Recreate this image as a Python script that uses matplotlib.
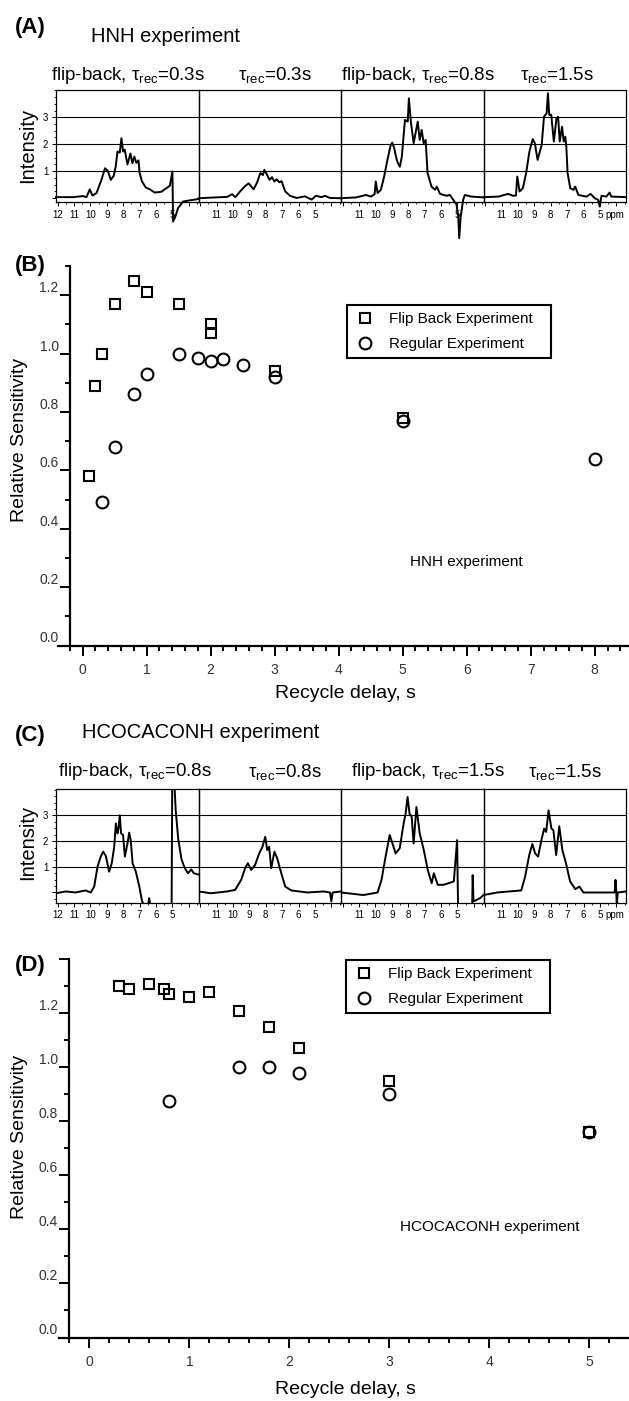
import matplotlib
matplotlib.use("Agg")
import matplotlib.pyplot as plt
from matplotlib.ticker import FixedLocator, MultipleLocator, FuncFormatter

plt.rcParams["font.family"] = ["Liberation Sans", "DejaVu Sans"]
plt.rcParams["mathtext.fontset"] = "custom"
plt.rcParams["mathtext.rm"] = "Liberation Sans"
plt.rcParams["mathtext.it"] = "Liberation Sans"

W, H = 629, 1401

# ---------------- (B) HNH relative sensitivity
hnh_fb_delay = [0.1, 0.2, 0.3, 0.5, 0.8, 1.0, 1.5, 2.0, 2.0, 3.0, 5.0]
hnh_fb_sens = [0.58, 0.89, 1.00, 1.17, 1.25, 1.21, 1.17, 1.10, 1.07, 0.94, 0.78]
hnh_reg_delay = [0.3, 0.5, 0.8, 1.0, 1.5, 1.8, 2.0, 2.2, 2.5, 3.0, 5.0, 8.0]
hnh_reg_sens = [0.49, 0.68, 0.86, 0.93, 1.00, 0.985, 0.975, 0.98, 0.96, 0.92, 0.77, 0.64]

# ---------------- (D) HCOCACONH relative sensitivity
hco_fb_delay = [0.3, 0.4, 0.6, 0.75, 0.8, 1.0, 1.2, 1.5, 1.8, 2.1, 3.0, 5.0]
hco_fb_sens = [1.30, 1.29, 1.31, 1.29, 1.27, 1.26, 1.28, 1.21, 1.15, 1.07, 0.95, 0.76]
hco_reg_delay = [0.8, 1.5, 1.8, 2.1, 3.0, 5.0]
hco_reg_sens = [0.875, 1.00, 1.00, 0.98, 0.90, 0.76]

# ---------------- (A) HNH 1H spectra (ppm, intensity)
hnh_fb03_ppm = [12.1, 11.06, 10.45, 10.24, 10.04, 9.88, 9.63, 9.33, 9.11, 8.93, 8.76, 8.58, 8.46,
                8.35, 8.21, 8.11, 8.01, 7.91, 7.74, 7.56, 7.44, 7.32, 7.2, 7.07, 7.0, 6.87, 6.63,
                6.38, 6.08, 5.67, 5.47, 5.16, 5.0, 4.96, 4.82, 4.66, 4.35, 3.95, 3.41]
hnh_fb03_int = [0.04, 0.04, 0.08, 0.04, 0.33, 0.10, 0.19, 0.68, 1.11, 1.0, 0.68, 0.83, 1.17,
                1.73, 1.69, 2.22, 1.73, 1.8, 1.25, 1.66, 1.3, 1.54, 1.31, 1.4, 0.95, 0.64, 0.4,
                0.33, 0.21, 0.24, 0.33, 0.46, 0.99, -0.87, -0.68, -0.37, -0.12, -0.08, -0.03]
hnh_reg03_ppm = [12.1, 10.35, 10.05, 9.85, 9.55, 9.24, 9.04, 8.74, 8.53, 8.33, 8.17, 8.09, 7.93,
                 7.77, 7.62, 7.47, 7.33, 7.17, 7.03, 6.82, 6.52, 6.12, 5.61, 5.2, 4.94, 4.59, 4.39,
                 4.09, 3.41]
hnh_reg03_int = [0.0, 0.05, 0.15, 0.04, 0.26, 0.46, 0.55, 0.33, 0.58, 0.93, 0.86, 1.05, 0.88,
                 0.68, 0.78, 0.62, 0.7, 0.59, 0.63, 0.26, 0.09, 0.01, 0.07, -0.05, 0.09, 0.04, 0.09,
                 0.01, 0.0]
hnh_fb08_ppm = [12.1, 11.18, 10.58, 10.28, 10.05, 9.98, 9.87, 9.67, 9.47, 9.27, 9.07, 8.97, 8.85,
                8.72, 8.63, 8.51, 8.39, 8.2, 8.03, 7.96, 7.84, 7.67, 7.42, 7.3, 7.18, 7.06, 6.94,
                6.82, 6.58, 6.36, 6.26, 6.06, 5.66, 5.46, 5.25, 5.05, 4.95, 4.89, 4.8, 4.65, 4.55,
                4.15, 3.41]
hnh_fb08_int = [0.0, 0.03, 0.12, 0.06, 0.15, 0.62, 0.19, 0.31, 0.8, 1.42, 1.97, 2.06, 1.84,
                1.47, 1.3, 1.17, 1.54, 2.9, 2.84, 3.7, 2.84, 2.04, 2.84, 2.16, 2.53, 2.04, 2.16,
                0.93, 0.43, 0.31, 0.43, 0.16, 0.09, 0.12, -0.06, -0.25, -0.68, -1.48, -0.68, -0.06,
                0.12, 0.06, 0.03]
hnh_reg15_ppm = [12.1, 11.2, 10.6, 10.3, 10.12, 10.04, 9.9, 9.7, 9.5, 9.3, 9.1, 8.97, 8.8, 8.69,
                 8.55, 8.41, 8.25, 8.17, 8.09, 7.97, 7.81, 7.65, 7.55, 7.45, 7.31, 7.21, 7.11, 7.05,
                 6.97, 6.81, 6.61, 6.51, 6.31, 5.81, 5.57, 5.31, 5.11, 5.01, 4.91, 4.61, 4.41,
                 4.31, 3.41]
hnh_reg15_int = [0.04, 0.06, 0.16, 0.09, 0.1, 0.8, 0.25, 0.37, 0.93, 1.73, 2.19, 2.04, 1.42, 1.67,
                 1.98, 3.02, 3.15, 3.89, 3.09, 3.09, 2.1, 2.96, 3.02, 2.1, 2.65, 2.1, 2.28, 1.91,
                 0.93, 0.37, 0.31, 0.43, 0.12, 0.06, 0.16, 0.0, -0.06, -0.31, 0.09, 0.06, 0.21,
                 0.06, 0.04]

# ---------------- (C) HCOCACONH 1H spectra (ppm, intensity)
hco_fb08_ppm = [12.1, 11.5, 10.9, 10.3, 9.98, 9.77, 9.57, 9.37, 9.22, 9.06, 8.86, 8.7, 8.55, 8.45,
                8.35, 8.29, 8.21, 8.13, 8.01, 7.9, 7.74, 7.64, 7.54, 7.43, 7.23, 7.02, 6.87, 6.72,
                6.5, 6.42, 6.32, 5.05, 5.0, 4.9, 4.8, 4.65, 4.45, 4.25, 4.05, 3.85, 3.7, 3.41]
hco_fb08_int = [-0.03, 0.04, 0.0, 0.08, 0.0, 0.23, 1.0, 1.4, 1.59, 1.42, 0.81, 1.14, 1.78, 2.69,
                2.3, 2.49, 3.01, 2.3, 2.24, 1.4, 1.91, 2.33, 2.04, 1.14, 0.81, 0.23, -0.28, -0.6,
                -0.6, -0.22, -0.6, -0.6, 6.0, 4.5, 3.2, 2.1, 1.3, 0.95, 0.75, 0.9, 0.75, 0.7]
hco_reg08_ppm = [12.1, 11.34, 10.36, 9.87, 9.5, 9.26, 9.09, 8.89, 8.65, 8.4, 8.2, 8.03, 7.91, 7.79,
                 7.67, 7.47, 7.3, 7.05, 6.81, 6.44, 5.46, 4.48, 4.08, 4.0, 3.92, 3.41]
hco_reg08_int = [0.04, -0.03, 0.04, 0.1, 0.49, 0.94, 1.14, 0.88, 1.07, 1.52, 1.78, 2.17, 1.65, 1.78,
                 0.94, 1.59, 1.33, 0.75, 0.23, 0.08, 0.0, 0.04, 0.0, -0.35, 0.0, 0.04]
hco_fb15_ppm = [12.1, 10.73, 9.87, 9.63, 9.38, 9.13, 8.96, 8.77, 8.52, 8.28, 8.16, 8.04, 7.92, 7.79,
                7.67, 7.5, 7.3, 7.05, 6.81, 6.57, 6.44, 6.2, 5.83, 5.22, 5.02, 4.96, 4.36, 4.1, 4.07,
                4.02, 3.62, 3.41]
hco_fb15_int = [0.0, -0.1, 0.0, 0.49, 1.4, 2.24, 1.91, 1.52, 1.72, 2.69, 3.07, 3.72, 3.07, 2.95,
                1.91, 3.33, 2.3, 1.65, 0.88, 0.36, 0.75, 0.3, 0.3, 0.43, 2.04, -0.6, -0.6, -0.5, 0.68,
                -0.35, -0.22, -0.1]
hco_reg15_ppm = [12.1, 11.27, 10.54, 9.8, 9.56, 9.31, 9.12, 8.95, 8.77, 8.57, 8.4, 8.28, 8.13, 7.96,
                 7.84, 7.67, 7.48, 7.29, 7.07, 6.82, 6.5, 6.25, 6.01, 4.9, 4.1, 4.05, 4.0, 3.97, 3.92,
                 3.41]
hco_reg15_int = [-0.1, 0.0, 0.04, 0.08, 0.62, 1.46, 1.89, 1.52, 1.4, 2.04, 2.49, 2.36, 3.2, 2.49,
                 2.43, 1.46, 2.58, 1.65, 1.14, 0.43, 0.13, 0.23, 0.0, 0.0, 0.0, 0.49, 0.0, -0.6, 0.0,
                 0.04]

hnh_titles = [r"flip-back, $\tau_{\mathrm{rec}}$=0.3s", r"$\tau_{\mathrm{rec}}$=0.3s",
              r"flip-back, $\tau_{\mathrm{rec}}$=0.8s", r"$\tau_{\mathrm{rec}}$=1.5s"]
hco_titles = [r"flip-back, $\tau_{\mathrm{rec}}$=0.8s", r"$\tau_{\mathrm{rec}}$=0.8s",
              r"flip-back, $\tau_{\mathrm{rec}}$=1.5s", r"$\tau_{\mathrm{rec}}$=1.5s"]

SEG_EDGES = [56, 198.5, 341, 483.5, 626]

fig = plt.figure(figsize=(W / 100, H / 100), dpi=100)


def px_axes(x0, y0, x1, y1):
    # pixel box (top-left origin) -> figure fraction
    return fig.add_axes([x0 / W, 1 - y1 / H, (x1 - x0) / W, (y1 - y0) / H])


def px_text(x, y, s, **kw):
    return fig.text(x / W, 1 - y / H, s, **kw)


def draw_strip(top, bottom, ylim, traces, titles, title_xs, title_y, label_y, clip):
    for k, (ppm, inten) in enumerate(traces):
        ax = px_axes(SEG_EDGES[k], top, SEG_EDGES[k + 1], bottom)
        ax.set_facecolor("none")
        for g in (1, 2, 3):
            ax.axhline(g, color="black", lw=0.8, zorder=1)
        ax.plot(ppm, inten, color="black", lw=1.4, clip_on=clip, zorder=3)
        ax.set_xlim(12.1, 3.41)
        ax.set_ylim(*ylim)
        top_label = 12 if k == 0 else 11
        ax.xaxis.set_major_locator(FixedLocator(list(range(4, 13))))
        ax.xaxis.set_minor_locator(MultipleLocator(0.5))
        ax.xaxis.set_major_formatter(FuncFormatter(
            lambda v, p, t=top_label: "%d" % round(v) if 5 <= round(v) <= t else ""))
        ax.tick_params(axis="x", which="major", length=3, width=0.7, labelsize=7, pad=2.5)
        ax.tick_params(axis="x", which="minor", length=1.5, width=0.6)
        if k == 0:
            ax.yaxis.set_major_locator(FixedLocator([0, 1, 2, 3]))
            ax.yaxis.set_major_formatter(FuncFormatter(lambda v, p: "" if v == 0 else "%d" % v))
            ax.yaxis.set_minor_locator(MultipleLocator(0.25))
            ax.tick_params(axis="y", which="major", length=3, width=0.7, labelsize=7, pad=2.5)
            ax.tick_params(axis="y", which="minor", length=1.5, width=0.6)
        else:
            ax.tick_params(axis="y", which="both", left=False, labelleft=False)
        for s in ax.spines.values():
            s.set_linewidth(0.9)
        px_text(title_xs[k], title_y, titles[k], fontsize=13.5, ha="center", va="center")
    px_text(615, label_y, "ppm", fontsize=7, ha="center", va="center")


def draw_sensitivity(box, xlim, ytop, xmax, fb_x, fb_y, reg_x, reg_y, leg_box):
    ax = px_axes(*box)
    ax.plot(fb_x, fb_y, ls="none", marker="s", ms=7.5, mfc="none", mec="black", mew=1.5,
            label="Flip Back Experiment", clip_on=False)
    ax.plot(reg_x, reg_y, ls="none", marker="o", ms=8.5, mfc="none", mec="black", mew=1.5,
            label="Regular Experiment", clip_on=False)
    ax.set_xlim(*xlim)
    ax.set_ylim(0, ytop)
    ax.spines["top"].set_visible(False)
    ax.spines["right"].set_visible(False)
    ax.spines["left"].set_position(("data", -0.2))
    ax.spines["left"].set_linewidth(1.6)
    ax.spines["bottom"].set_linewidth(1.6)
    ax.xaxis.set_major_locator(FixedLocator(list(range(0, xmax + 1))))
    ax.xaxis.set_minor_locator(MultipleLocator(0.2))
    yt = [0.0, 0.2, 0.4, 0.6, 0.8, 1.0, 1.2]
    if ytop > 1.35:
        yt.append(1.4)
    ax.yaxis.set_major_locator(FixedLocator(yt))
    ax.yaxis.set_major_formatter(FuncFormatter(lambda v, p: "" if v > 1.3 else "%.1f" % v))
    ax.yaxis.set_minor_locator(MultipleLocator(0.1))
    ax.tick_params(which="major", length=7.5, width=1.4, labelsize=10, labelcolor="#333333")
    ax.tick_params(which="minor", length=3.5, width=1.4)
    ax.tick_params(axis="x", which="major", pad=5)
    ax.tick_params(axis="y", which="major", pad=0.5)
    for lab in ax.get_yticklabels():
        lab.set_verticalalignment("bottom")
    x0, y0, x1, y1 = leg_box
    leg = ax.legend(loc="upper left", mode="expand",
                    bbox_to_anchor=(x0 / W, 1 - y1 / H, (x1 - x0) / W, (y1 - y0) / H),
                    bbox_transform=fig.transFigure, fontsize=11, fancybox=False,
                    framealpha=1, borderaxespad=0, borderpad=0.45, labelspacing=0.75,
                    handlelength=1.4, handletextpad=0.9)
    leg.get_frame().set_edgecolor("black")
    leg.get_frame().set_linewidth(1.5)
    return ax


# ---------------- panel A
px_text(30, 27, "(A)", fontsize=16, fontweight="bold", ha="center", va="center")
px_text(91, 37, "HNH experiment", fontsize=14.5, ha="left", va="center")
px_text(28, 145, "Intensity", fontsize=14.5, rotation=90, ha="center", va="center")
draw_strip(90, 202, (-0.14, 4.01),
           [(hnh_fb03_ppm, hnh_fb03_int), (hnh_reg03_ppm, hnh_reg03_int),
            (hnh_fb08_ppm, hnh_fb08_int), (hnh_reg15_ppm, hnh_reg15_int)],
           hnh_titles, [128, 275, 418, 557], 75, 215, clip=False)

# ---------------- panel B
px_text(30, 265, "(B)", fontsize=16, fontweight="bold", ha="center", va="center")
draw_sensitivity((58.3, 266, 628, 645.5), (-0.38, 8.52), 1.30, 8,
                 hnh_fb_delay, hnh_fb_sens, hnh_reg_delay, hnh_reg_sens,
                 (347, 305, 551, 359))
px_text(20, 440, "Relative Sensitivity", fontsize=14, rotation=90, ha="center", va="center")
px_text(345, 693, "Recycle delay, s", fontsize=14, ha="center", va="center")
px_text(410, 562, "HNH experiment", fontsize=11, ha="left", va="center")

# ---------------- panel C
px_text(30, 735, "(C)", fontsize=16, fontweight="bold", ha="center", va="center")
px_text(82, 733, "HCOCACONH experiment", fontsize=14.5, ha="left", va="center")
px_text(28, 842, "Intensity", fontsize=14.5, rotation=90, ha="center", va="center")
draw_strip(789.3, 902.5, (-0.39, 4.02),
           [(hco_fb08_ppm, hco_fb08_int), (hco_reg08_ppm, hco_reg08_int),
            (hco_fb15_ppm, hco_fb15_int), (hco_reg15_ppm, hco_reg15_int)],
           hco_titles, [135, 285, 428, 565], 772, 915, clip=True)

# ---------------- panel D
px_text(30, 965, "(D)", fontsize=16, fontweight="bold", ha="center", va="center")
draw_sensitivity((59.3, 959.3, 628.5, 1337.5), (-0.3, 5.39), 1.40, 5,
                 hco_fb_delay, hco_fb_sens, hco_reg_delay, hco_reg_sens,
                 (346, 960, 550, 1015))
px_text(20, 1137, "Relative Sensitivity", fontsize=14, rotation=90, ha="center", va="center")
px_text(345, 1390, "Recycle delay, s", fontsize=14, ha="center", va="center")
px_text(400, 1227, "HCOCACONH experiment", fontsize=11, ha="left", va="center")

fig.savefig("out.png", dpi=100)
